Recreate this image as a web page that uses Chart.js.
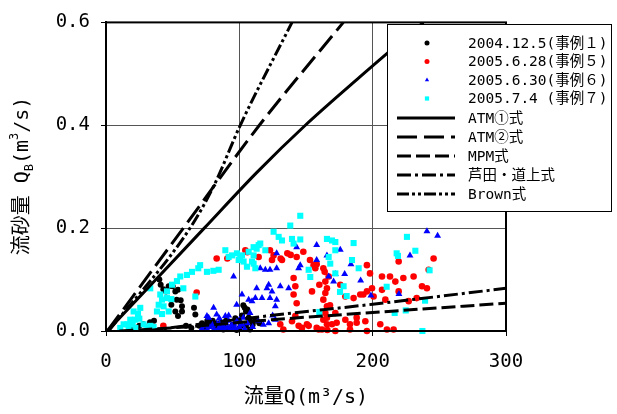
<!DOCTYPE html>
<html>
<head>
<meta charset="utf-8">
<script src="https://cdn.jsdelivr.net/npm/chart.js@4.4.1/dist/chart.umd.min.js"></script>
<style>
  body { margin: 0; background: #fff; }
  #chart { display: block; }
</style>
</head>
<body>
<canvas id="chart" width="617" height="414"></canvas>
<script>
// observed points [Q (m3/s), QB (m3/s)]
const case1 = [[20,.005],[25,.01],[28,.013],[33,.017],[36,.02],[40,.1],[41,.09],[43,.081],[45,.077],[47,.087],
  [50,.087],[52,.077],[54,.08],[53,.061],[56,.06],[57,.048],[49,.051],[57,.038],[52,.038],[54,.029],[66,.045],
  [67,.032],[60,.01],[64,.006],[70,.01],[72,.015],[75,.005],[78,.012],[80,.02],[82,.008],[85,.015],[88,.01],
  [90,.02],[92,.005],[95,.012],[97,.025],[100,.018],[102,.03],[103,.05],[104,.045],[105,.038],[106,.042],
  [107,.026],[108,.02],[105,.01],[110,.012],[112,.02],[115,.015],[100,.005],[98,.002],[108,.003],[88,.003],
  [76,.02],[84,.004],[94,.008],[101,.01]];
const case5 = [[43,.01],[68,.075],[83,.141],[91,.141],[104.5,.157],[106,.153],[114.5,.144],[123,.157],[124.5,.138],
  [125.7,.147],[131,.141],[132,.138],[136,.151],[138.5,.148],[143,.144],[148,.154],[153,.138],[155.7,.128],[158,.13],
  [157,.122],[163,.122],[164,.115],[167,.106],[164.5,.096],[165.7,.083],[164.5,.074],[163,.061],[165.7,.048],
  [164.5,.035],[163,.022],[165.7,.013],[162,.003],[166,.002],[140.7,.103],[142,.087],[140.7,.071],[143,.054],
  [142,.029],[144.5,.01],[150.7,.013],[158,.006],[154.5,.077],[172,.035],[195.7,.128],[198,.112],[199.5,.083],
  [195.7,.077],[193,.071],[190.7,.071],[185.7,.064],[200.7,.067],[207,.106],[213,.106],[207,.08],[217,.096],
  [223,.103],[230.7,.106],[219.5,.135],[219.5,.077],[209.5,.061],[227,.058],[233,.064],[237,.087],[240.7,.083],
  [242,.119],[245.7,.141],[175.7,.09],[179.5,.067],[173,.016],[179.5,.022],[183,.013],[188,.016],[183,.003],
  [194.5,.019],[205.7,.013],[210.7,.003],[215.7,.003],[169.5,.013],[172,0],[130.7,.013],[133,.003],[139.5,.019],
  [152,.01],[159.5,.003],[165.7,.026],[188,.026],[195.7,0],[147,.006],[168,.05],[160,.09]];
const case6 = [[95.7,.106],[102,.071],[107,.061],[112,.064],[117,.064],[123,.064],[120.7,.083],[122,.09],[124.5,.077],
  [130.7,.087],[137,.083],[127,.048],[115.7,.122],[123,.119],[128,.122],[119.5,.119],[144.5,.122],[145.7,.128],
  [143,.163],[158,.167],[158,.138],[128,.151],[165.7,.147],[167,.106],[170.7,.096],[108,.035],[80.7,.045],
  [75.7,.029],[83,.032],[89.5,.029],[103,.026],[127,.022],[175.7,.158],[240.7,.194],[248.7,.185],[228,.147],
  [183.7,.13],[172,.111],[179,.111],[191,.098],[198.7,.069],[219.7,.072],[113,.083],[109.5,.058],[98,.051],
  [128,.061],[77,.026],[72,.005],[74,.01],[76,.003],[78,.008],[80,.012],[81,.004],[83,.015],[84,.002],[85,.008],
  [86,.018],[87,.005],[88,.01],[89,.002],[90,.015],[91,.007],[92,.02],[93,.004],[94,.01],[95,.002],[96,.014],
  [97,.006],[98,.018],[100,.008],[102,.012],[104,.004],[106,.015],[110,.008],[114,.02],[118,.012],[122,.015],
  [85,.025],[92,.03],[100,.022],[125,.03]];
const case7 = [[145.7,.224],[138.2,.205],[125.7,.193],[129.5,.183],[132,.176],[139.5,.179],[145.7,.178],[140.7,.17],
  [114.5,.167],[115.7,.17],[113,.16],[119.5,.157],[110.7,.163],[107,.154],[102,.147],[98.2,.151],[100.7,.144],
  [94.5,.147],[110.7,.147],[103.2,.135],[105.7,.125],[110.7,.131],[109.5,.135],[112,.122],[99.5,.138],[89.5,.157],
  [92,.144],[84.5,.119],[80.5,.117],[75.7,.115],[70.6,.128],[69.2,.122],[64.5,.115],[60.7,.109],[55.7,.106],
  [53.2,.097],[49.5,.09],[33.2,.083],[45.7,.077],[67,.067],[40.7,.071],[42,.061],[45.7,.064],[49,.062],[39.5,.051],
  [43.2,.048],[47,.038],[38.2,.038],[42,.033],[25.7,.045],[20.7,.038],[24,.033],[18.2,.022],[22,.022],[25,.024],
  [13.2,.013],[16,.013],[20,.013],[10.7,.006],[28.2,.013],[31,.006],[33.2,.01],[35.7,.008],[22,.006],[17,.004],
  [58,.083],[165.7,.179],[169.5,.176],[172,.173],[185.7,.171],[172,.157],[168.2,.131],[167,.144],[184.5,.138],
  [189.5,.122],[152,.119],[153.2,.105],[172,.112],[178.2,.087],[175.5,.076],[180.5,.068],[225.7,.183],[232,.156],
  [218,.151],[219,.146],[242.7,.118],[210.5,.086],[239.3,.059],[216.5,.035],[224.8,.04],[237.3,0],[160,.037]];

// formula curves [Q, QB]
const atm1 = [[1,0],[73.7,.2],[113,.308],[149.5,.4],[190,.493],[238,.6]];
const atm2 = [[1,0],[58,.2],[115,.4],[178,.6]];
const mpm = [[10,0],[60,.008],[120,.021],[200,.036],[300,.054]];
const ashida = [[30,0],[60,.01],[120,.029],[200,.052],[300,.083]];
const brown = [[2,0],[63,.2],[81,.283],[100.7,.4],[139.5,.6]];

const xTicks = [0, 100, 200, 300];
const yTicks = [0, 0.2, 0.4, 0.6];

const FONT = '"DejaVu Sans Mono", "Noto Sans CJK JP", monospace';
const toXY = arr => arr.map(p => ({ x: p[0], y: p[1] }));

function pointSet(label, data, color, style, radius, order) {
    return {
        label, data: toXY(data), order,
        backgroundColor: color, borderColor: color, borderWidth: 0,
        pointStyle: style, pointRadius: radius, pointHoverRadius: radius,
        clip: false, legendRadius: style === 'rect' ? 3 : 2.5
    };
}

function lineSet(label, data, dash) {
    return {
        label, data: toXY(data), order: 0, showLine: true,
        borderColor: '#000', backgroundColor: '#000', borderWidth: 3,
        borderDash: dash, pointRadius: 0, fill: false,
        cubicInterpolationMode: 'monotone'
    };
}

const datasets = [
    pointSet('2004.12.5(事例１)', case1, '#000', 'circle', 3, 4),
    pointSet('2005.6.28(事例５)', case5, '#ff0000', 'circle', 3.3, 3),
    pointSet('2005.6.30(事例６)', case6, '#0000ff', 'triangle', 4, 2),
    pointSet('2005.7.4 (事例７)', case7, '#00ffff', 'rect', 4.3, 1),
    lineSet('ATM①式', atm1, []),
    lineSet('ATM②式', atm2, [20, 7]),
    lineSet('MPM式', mpm, [14, 5]),
    lineSet('芦田・道上式', ashida, [14, 4, 3, 4]),
    lineSet('Brown式', brown, [12, 3, 3, 3, 3, 3])
];

// frame around the plot area
const frame = {
    id: 'frame',
    afterDatasetsDraw(chart) {
        const a = chart.chartArea, ctx = chart.ctx;
        ctx.save();
        ctx.strokeStyle = '#000';
        ctx.lineWidth = 2;
        ctx.strokeRect(a.left, a.top, a.right - a.left, a.bottom - a.top);
        ctx.restore();
    }
};

// y title with sub/superscripts
const yTitle = {
    id: 'yTitle',
    afterDraw(chart) {
        const ctx = chart.ctx;
        const parts = [
            { t: '流砂量 Q', s: 20, dy: 0 },
            { t: 'B', s: 12, dy: 7 },
            { t: '(m', s: 20, dy: 0 },
            { t: '3', s: 12, dy: -8 },
            { t: '/s)', s: 20, dy: 0 }
        ];
        ctx.save();
        ctx.translate(23, 176);
        ctx.rotate(-Math.PI / 2);
        ctx.fillStyle = '#000';
        ctx.textBaseline = 'middle';
        let total = 0;
        parts.forEach(p => { ctx.font = p.s + 'px ' + FONT; p.w = ctx.measureText(p.t).width; total += p.w; });
        let x = -total / 2;
        parts.forEach(p => {
            ctx.font = p.s + 'px ' + FONT;
            ctx.fillText(p.t, x, p.dy);
            x += p.w;
        });
        ctx.restore();
    }
};

// boxed legend overlapping the upper right of the plot
const boxLegend = {
    id: 'boxLegend',
    afterDraw(chart) {
        const ctx = chart.ctx;
        const rows = [43, 61.5, 80, 98.5, 118, 137, 156, 175, 194];
        ctx.save();
        ctx.fillStyle = '#fff';
        ctx.fillRect(387.5, 24.5, 224, 187);
        ctx.strokeStyle = '#000';
        ctx.lineWidth = 1;
        ctx.strokeRect(387.5, 24.5, 224, 187);
        chart.data.datasets.forEach((ds, i) => {
            const y = rows[i];
            if (ds.showLine) {
                ctx.strokeStyle = '#000';
                ctx.lineWidth = 3;
                ctx.setLineDash(ds.borderDash);
                ctx.beginPath();
                ctx.moveTo(397, y);
                ctx.lineTo(455, y);
                ctx.stroke();
                ctx.setLineDash([]);
            } else {
                ctx.fillStyle = ds.backgroundColor;
                ctx.strokeStyle = ds.backgroundColor;
                Chart.helpers.drawPoint(ctx, {
                    pointStyle: ds.pointStyle, radius: ds.legendRadius, rotation: 0, borderWidth: 0
                }, 427, y);
            }
            ctx.fillStyle = '#000';
            ctx.font = '14.5px ' + FONT;
            ctx.textBaseline = 'middle';
            ctx.textAlign = 'left';
            ctx.fillText(ds.label, 468, y + 1);
        });
        ctx.restore();
    }
};

new Chart(document.getElementById('chart'), {
    type: 'scatter',
    data: { datasets },
    plugins: [frame, yTitle, boxLegend],
    options: {
        responsive: false,
        animation: false,
        devicePixelRatio: 1,
        layout: { padding: { left: 0, right: 111, top: 17, bottom: 0 } },
        plugins: { legend: { display: false }, tooltip: { enabled: false } },
        scales: {
            x: {
                min: 0, max: 300,
                afterFit: s => { s.height = 83; },
                afterBuildTicks: s => { s.ticks = xTicks.map(v => ({ value: v })); },
                grid: { color: '#555', lineWidth: 1, tickLength: 5, tickColor: '#000' },
                border: { color: '#000', width: 2 },
                ticks: { color: '#000', padding: 15, font: { family: FONT, size: 19 } },
                title: {
                    display: true, text: '流量Q(m³/s)', color: '#000',
                    font: { family: FONT, size: 20 }, padding: { top: 0, bottom: 4 }
                }
            },
            y: {
                min: 0, max: 0.6,
                afterFit: s => { s.width = 106; },
                afterBuildTicks: s => { s.ticks = yTicks.map(v => ({ value: v })); },
                grid: { color: '#555', lineWidth: 1, tickLength: 5, tickColor: '#000' },
                border: { color: '#000', width: 2 },
                ticks: {
                    color: '#000', padding: 11, font: { family: FONT, size: 19 },
                    callback: v => v.toFixed(1)
                }
            }
        }
    }
});
</script>
</body>
</html>
